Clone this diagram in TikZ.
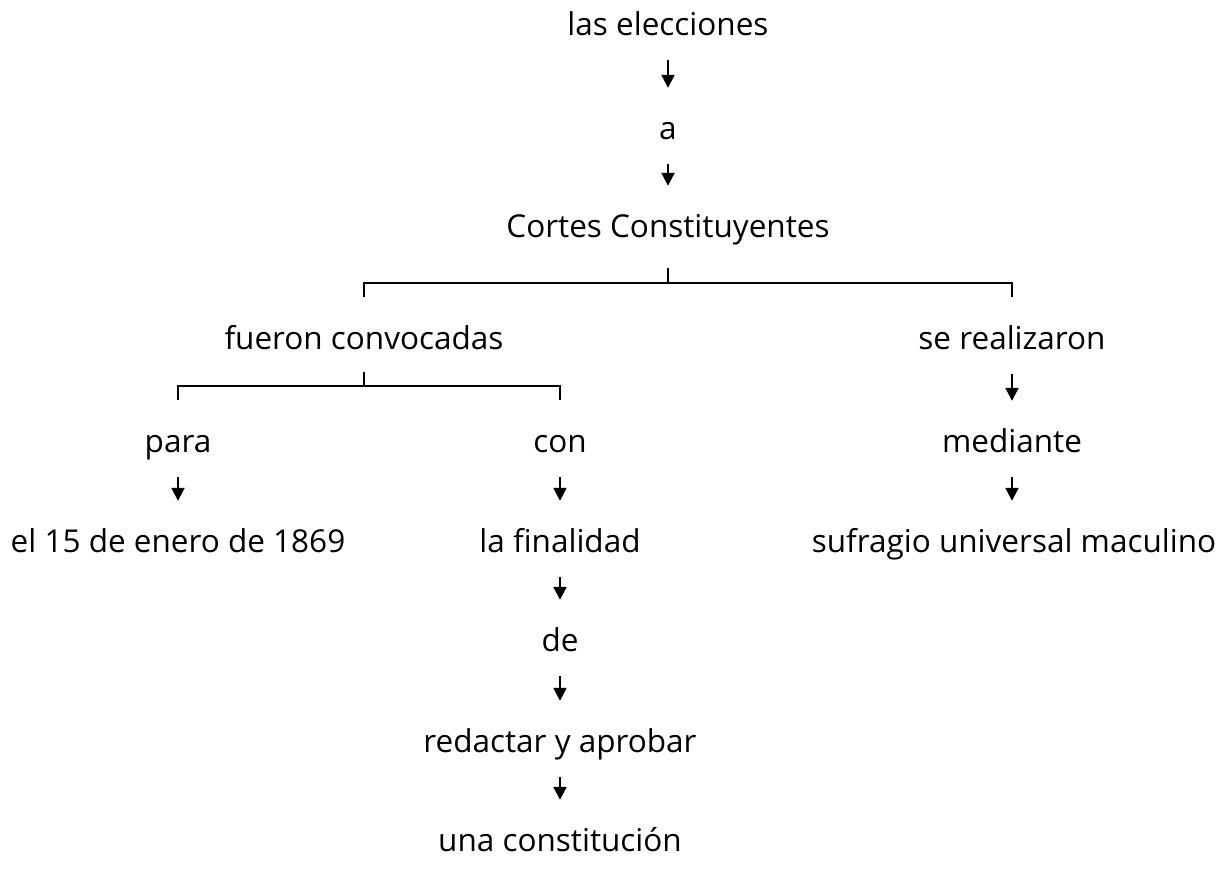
\documentclass[tikz,border=0pt]{standalone}
\usepackage{fontspec}
\setmainfont{Open Sans}
\usetikzlibrary{arrows.meta}
\begin{document}
\begin{tikzpicture}[x=1pt,y=-1pt,
  lbl/.style={font=\fontsize{31.5}{36}\selectfont, inner sep=0pt, anchor=base, text height=17pt, text depth=6pt},
  arr/.style={line width=2.2pt, -{Triangle[length=13pt,width=13pt]}, shorten <=19pt, shorten >=34pt},
  brk/.style={line width=2.4pt}]
\useasboundingbox (0,0) rectangle (1229,868);
% nodes
\node[lbl] (elec) at (668,35) {las elecciones};
\node[lbl] (a) at (668,139) {a};
\node[lbl] (cortes) at (668,237) {Cortes Constituyentes};
\node[lbl] (fueron) at (364,349) {fueron convocadas};
\node[lbl] (serea) at (1012,349) {se realizaron};
\node[lbl] (para) at (178,452) {para};
\node[lbl] (con) at (560,452) {con};
\node[lbl] (median) at (1012,452) {mediante};
\node[lbl] (fecha) at (178,552) {el 15 de enero de 1869};
\node[lbl] (final) at (560,552) {la finalidad};
\node[lbl] (sufr) at (1014,552) {sufragio universal maculino};
\node[lbl] (de) at (560,651) {de};
\node[lbl] (redac) at (560,752) {redactar y aprobar};
\node[lbl] (const) at (560,851) {una constitución};
% arrows
\draw[arr] (elec.south) -- (a.north);
\draw[arr] (a.south) -- (cortes.north);
\draw[arr] (serea.south) -- (median.north);
\draw[arr] (median.south) -- (median.south |- sufr.north);
\draw[arr] (para.south) -- (fecha.north);
\draw[arr] (con.south) -- (final.north);
\draw[arr] (final.south) -- (de.north);
\draw[arr] (de.south) -- (redac.north);
\draw[arr] (redac.south) -- (const.north);
% brackets
\coordinate (c1) at (668,268);
\coordinate (c2) at (668,283);
\coordinate (c3) at (364,297);
\coordinate (c4) at (1012,297);
\draw[brk] (c1) -- (c2);
\draw[brk] (c3) |- (c2) -| (c4);
\coordinate (f1) at (364,372);
\coordinate (f2) at (364,386);
\coordinate (f3) at (178,400);
\coordinate (f4) at (560,400);
\draw[brk] (f1) -- (f2);
\draw[brk] (f3) |- (f2) -| (f4);
\end{tikzpicture}
\end{document}
